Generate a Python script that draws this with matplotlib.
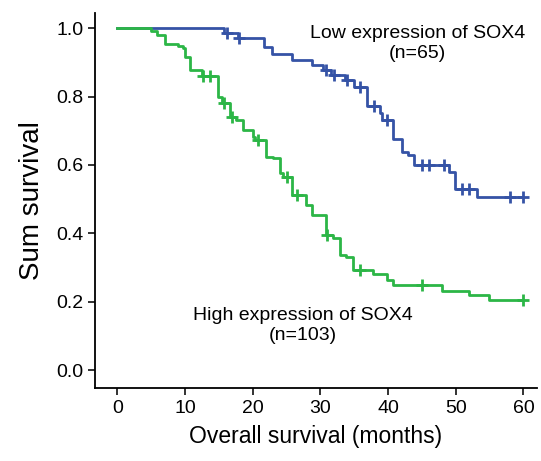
import numpy as np
import matplotlib
matplotlib.use("Agg")
import matplotlib.pyplot as plt

plt.rcParams['font.family'] = ['Liberation Sans', 'DejaVu Sans']

# Kaplan-Meier steps: event times (months) and survival after each event
low_times = [15.8, 17.9, 21.7, 22.9, 25.8, 28.7, 30.4, 31.6, 33.7, 34.9, 36.9, 38.8, 39.1,
             40.8, 42.0, 43.0, 43.8, 49.0, 49.9, 53.1]
low_surv = [0.986, 0.970, 0.945, 0.924, 0.906, 0.892, 0.877, 0.862, 0.848, 0.828, 0.772, 0.751, 0.731,
            0.677, 0.638, 0.629, 0.599, 0.580, 0.531, 0.505]
low_censor = [16.2, 18.0, 30.8, 32.0, 33.9, 35.9, 37.9, 39.8, 45.0, 46.0, 48.2, 50.9, 51.9, 58.0, 60.0]

high_times = [4.9, 5.8, 7.1, 9.0, 9.7, 10.0, 10.7, 12.5, 14.9, 15.4, 16.6, 17.6, 18.6, 20.0, 20.4,
              22.0, 23.0, 24.0, 24.5, 25.8, 27.8, 28.7, 30.9, 31.8, 32.9, 33.8, 34.8, 37.7, 39.8,
              40.8, 48.0, 52.0, 54.9]
high_surv = [0.991, 0.980, 0.955, 0.948, 0.941, 0.916, 0.877, 0.860, 0.799, 0.781, 0.741, 0.731, 0.702,
             0.682, 0.672, 0.624, 0.620, 0.576, 0.566, 0.512, 0.482, 0.453, 0.395, 0.386, 0.336, 0.331,
             0.292, 0.281, 0.263, 0.249, 0.232, 0.219, 0.205]
high_censor = [12.7, 13.7, 15.7, 16.9, 20.8, 25.0, 26.5, 31.0, 35.8, 45.0, 60.0]

blue = '#3553a6'
green = '#2cb646'


def km_curve(times, surv, end):
    t = np.concatenate([[0], times, [end]])
    s = np.concatenate([[1.0], surv, [surv[-1]]])
    return t, s


def surv_at(times, surv, c):
    t = np.asarray(times)
    s = np.concatenate([[1.0], surv])
    return s[np.searchsorted(t, np.asarray(c), side='right')]


fig = plt.figure(figsize=(5.41, 4.61), dpi=100)
ax = fig.add_axes([0.1756, 0.1584, 0.817, 0.813])

for times, surv, cens, col in [(low_times, low_surv, low_censor, blue),
                               (high_times, high_surv, high_censor, green)]:
    t, s = km_curve(times, surv, 60.0)
    ax.step(t, s, where='post', color=col, lw=2.0)
    ax.plot(cens, surv_at(times, surv, cens), ls='none', marker='+', ms=8, mew=2.0, color=col)

ax.text(44.4, 0.955, 'Low expression of SOX4\n(n=65)', ha='center', va='center',
        fontsize=14, linespacing=1.25)
ax.text(27.4, 0.13, 'High expression of SOX4\n(n=103)', ha='center', va='center',
        fontsize=14, linespacing=1.25)

ax.set_xlim(-3.3, 62)
ax.set_ylim(-0.0526, 1.044)
ax.set_xticks(np.arange(0, 61, 10))
ax.set_yticks(np.arange(0, 1.01, 0.2))
ax.set_yticklabels(['%.1f' % v for v in np.arange(0, 1.01, 0.2)])
ax.tick_params(labelsize=14, length=5, width=1.3, direction='out', color='#222222')
for sp in ['top', 'right']:
    ax.spines[sp].set_visible(False)
for sp in ['left', 'bottom']:
    ax.spines[sp].set_linewidth(1.3)
ax.set_xlabel('Overall survival (months)', fontsize=16.5, labelpad=6)
ax.set_ylabel('Sum survival', fontsize=20, labelpad=8)

fig.savefig('out.png', dpi=100)
